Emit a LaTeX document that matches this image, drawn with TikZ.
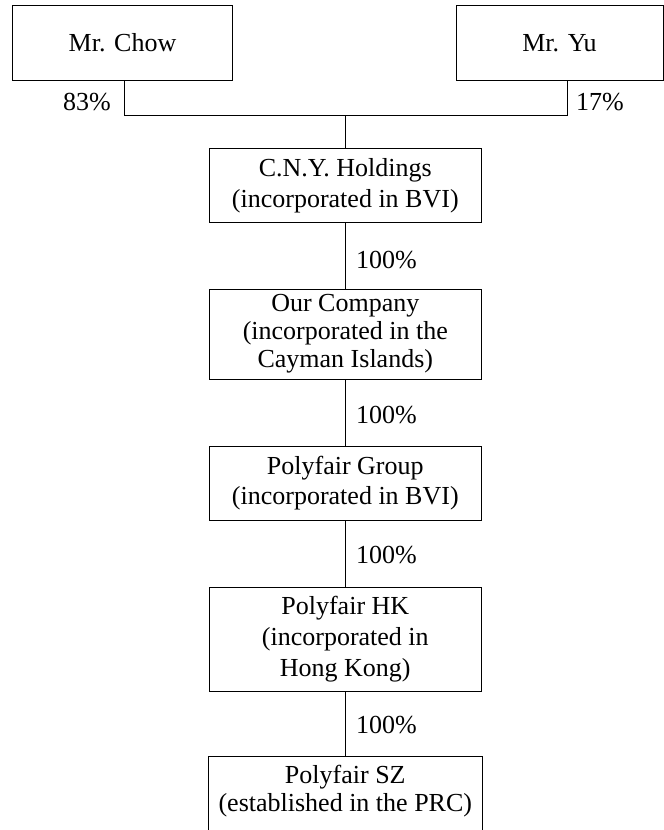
\documentclass[tikz,border=0pt]{standalone}
\usepackage{fontspec}
\setmainfont{Liberation Serif}
\usetikzlibrary{calc}
\begin{document}
\begin{tikzpicture}[x=1pt,y=-1pt,
  box/.style={draw, line width=0.9pt, inner sep=0pt, align=center, font=\fontsize{26}{#1}\selectfont},
  box/.default=30,
  pct/.style={inner sep=0pt, font=\fontsize{26}{30}\selectfont},
  link/.style={line width=0.9pt}]
\useasboundingbox (0,0) rectangle (664,830);
\clip (0,0) rectangle (664,830);
% owners
\node[box, minimum width=220, minimum height=75] (chow) at (122.5,43) {Mr. Chow};
\node[box, minimum width=207, minimum height=75] (yu) at (559.5,43) {Mr. Yu};
% main column
\node[box=31, minimum width=272.5, minimum height=74.5] (cny) at (345.3,185.3) {C.N.Y. Holdings\\(incorporated in BVI)};
\node[box=28, minimum width=272.5, minimum height=90] (our) at (345.3,334) {Our Company\\(incorporated in the\\Cayman Islands)};
\node[box=30, minimum width=272.5, minimum height=74] (grp) at (345.3,483) {Polyfair Group\\(incorporated in BVI)};
\node[box=31, minimum width=272.5, minimum height=104] (hk) at (345.3,639) {Polyfair HK\\(incorporated in\\Hong Kong)};
\node[box=28, draw=none, minimum width=272.5, minimum height=69] (sz) at (345.3,791.5) {Polyfair SZ\\(established in the PRC)};
\draw[link] ($(sz.south west)+(0,20)$) -- (sz.north west) -- (sz.north east) -- ($(sz.south east)+(0,20)$);
% junction
\coordinate (jL) at (124,115);
\coordinate (jR) at (567,115);
\draw[link] (chow.south -| jL) -- (jL) -- (jR) -- (yu.south -| jR);
\draw[link] (jL -| cny.north) -- (cny.north);
\draw[link] (cny) -- (our);
\draw[link] (our) -- (grp);
\draw[link] (grp) -- (hk);
\draw[link] (hk) -- (sz);
% labels
\node[pct] (p83) at (87,102) {83\%};
\node[pct] (p17) at (600,102) {17\%};
\node[pct, anchor=west] (p1) at (356,260) {100\%};
\node[pct, anchor=west] (p2) at (356,415) {100\%};
\node[pct, anchor=west] (p3) at (356,555) {100\%};
\node[pct, anchor=west] (p4) at (356,725) {100\%};
\end{tikzpicture}
\end{document}
